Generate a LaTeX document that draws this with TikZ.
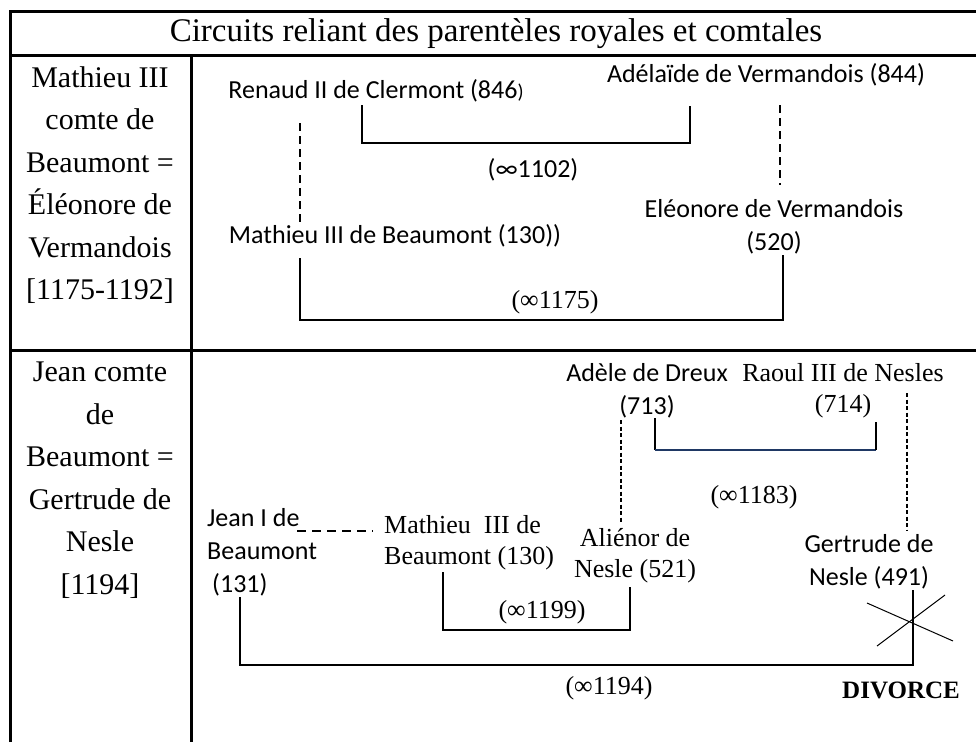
\documentclass[tikz,border=0pt]{standalone}
\usepackage{fontspec}
\newfontfamily\calf{Carlito}
\newfontfamily\tmsf{Liberation Serif}
\begin{document}
\begin{tikzpicture}[x=1pt,y=-1pt,
  lbl/.style={inner sep=0pt, font=\calf\fontsize{26}{33}\selectfont},
  tlbl/.style={inner sep=0pt, font=\tmsf\fontsize{26}{31}\selectfont},
  side/.style={inner sep=0pt, align=center, font=\tmsf\fontsize{30}{42.5}\selectfont},
  tbl/.style={line width=3pt},
  conn/.style={line width=2pt},
  dashconn/.style={line width=2.2pt, dash pattern=on 8pt off 5pt},
  thindash/.style={line width=1.3pt, dash pattern=on 4pt off 2.5pt}]
\useasboundingbox (0,0) rectangle (976,742);
% table
\draw[tbl] (10,742) -- (10,11) -- (978,11);
\draw[tbl] (10,55) -- (978,55);
\draw[tbl] (10,350) -- (978,350);
\draw[tbl] (191,55) -- (191,742);
\node[inner sep=0pt, font=\tmsf\fontsize{33}{36}\selectfont] (title) at (496,34) {Circuits reliant des parentèles royales et comtales};
\node[side] (side1) at (100,185) {Mathieu III\\comte de\\Beaumont =\\Éléonore de\\Vermandois\\{[}1175-1192{]}};
\node[side] (side2) at (100,480) {Jean comte\\de\\Beaumont =\\Gertrude de\\Nesle\\{[}1194{]}};
% row 1
\node[lbl] (renaud) at (376,91) {Renaud II de Clermont (846{\fontsize{20}{20}\selectfont)}};
\node[lbl] (adelaide) at (766,75) {Adélaïde de Vermandois (844)};
\node[lbl] (m1102) at (533,170) {(∞1102)};
\node[lbl] (mathieuA) at (395,236) {Mathieu III de Beaumont (130))};
\node[lbl, align=center] (eleonore) at (774,227) {Eléonore de Vermandois\\(520)};
\node[tlbl] (m1175) at (555,302) {(∞1175)};
\coordinate (r1) at (362,105);
\coordinate (r2) at (690,106);
\coordinate (r3) at (690,143);
\draw[conn] (r1) |- (r3) -- (r2);
\coordinate (d1a) at (300,123);
\coordinate (d1b) at (300,222);
\draw[dashconn] (d1a) -- (d1b);
\coordinate (d2a) at (780,105);
\coordinate (d2b) at (780,185);
\draw[dashconn] (d2a) -- (d2b);
\coordinate (ma1) at (300,258);
\coordinate (ma2) at (783,255);
\coordinate (ma3) at (783,320);
\draw[conn] (ma1) |- (ma3) -- (ma2);
% row 2
\node[lbl, align=center] (adele) at (647,391) {Adèle de Dreux\\(713)};
\node[tlbl, align=center] (raoul) at (843,391) {Raoul III de Nesles\\(714)};
\node[tlbl] (m1183) at (754,497) {(∞1183)};
\node[tlbl, align=center] (alienor) at (635,556) {Aliénor de\\Nesle (521)};
\node[lbl, align=center] (gertrude) at (869,562) {Gertrude de\\Nesle (491)};
\node[lbl, align=left, anchor=west] (jean) at (207,552) {Jean I de\\Beaumont\\\hspace*{5pt}(131)};
\node[tlbl, align=left, anchor=west] (mathieuB) at (384,543) {Mathieu\ \ III de\\Beaumont (130)};
\node[tlbl] (m1199) at (542,612) {(∞1199)};
\node[tlbl] (m1194) at (609,688) {(∞1194)};
\node[inner sep=0pt, font=\tmsf\bfseries\fontsize{25}{28}\selectfont] (divorce) at (901,690) {DIVORCE};
\coordinate (a1) at (655,418);
\coordinate (a2) at (655,450);
\coordinate (a3) at (876,450);
\coordinate (a4) at (876,422);
\draw[conn] (a1) -- (a2);
\draw[conn, draw={rgb,255:red,31;green,56;blue,100}] (a2) -- (a3);
\draw[conn] (a3) -- (a4);
\coordinate (t1a) at (621,420);
\coordinate (t1b) at (621,523);
\draw[thindash] (t1a) -- (t1b);
\coordinate (t2a) at (907,393);
\coordinate (t2b) at (907,530);
\draw[thindash] (t2a) -- (t2b);
\coordinate (j1) at (297,531);
\coordinate (j2) at (373,531);
\draw[dashconn, dash pattern=on 9pt off 6pt] (j1) -- (j2);
\coordinate (b1) at (443,572);
\coordinate (b2) at (630,587);
\coordinate (b3) at (630,630);
\draw[conn] (b1) |- (b3) -- (b2);
\coordinate (g1) at (240,597);
\coordinate (g2) at (913,590);
\coordinate (g3) at (913,665);
\draw[conn] (g1) |- (g3) -- (g2);
\coordinate (x1) at (867,603);
\coordinate (x2) at (953,641);
\coordinate (x3) at (877,646);
\coordinate (x4) at (945,595);
\draw[line width=1pt] (x1) -- (x2);
\draw[line width=1pt] (x3) -- (x4);
\end{tikzpicture}
\end{document}
